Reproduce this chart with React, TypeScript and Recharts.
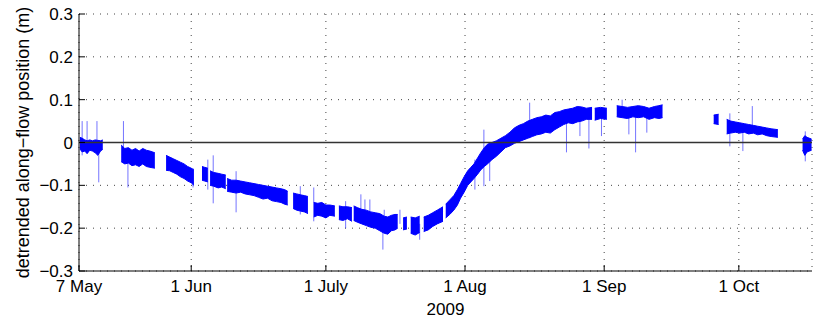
import React from 'react';
import { ComposedChart, Area, Scatter, ErrorBar, XAxis, YAxis, CartesianGrid, ReferenceLine } from 'recharts';

// days since 7 May 2009; null low/high marks a gap in the record
const DAYS = [
  0.2, 0.7, 1.3, 1.8, 2.4, 3.0, 3.6, 4.2, 4.8, 5.3, 5.5,
  9.4, 10.2, 11.0, 11.8, 12.6, 13.4, 14.2, 15.0, 15.8, 16.9, 17.2,
  19.4, 20.2, 21.0, 21.8, 22.6, 23.4, 24.2, 25.0, 25.6, 26,
  27.4, 28.0, 28.7, 28.95,
  29.2, 30.0, 31.0, 31.8, 32.7, 32.85,
  33.0, 34.0, 35.0, 36.0, 37.0, 38.0, 39.0, 40.0, 41.0, 42.0, 43.0, 44.0, 45.0, 45.8, 46.5, 47,
  47.7, 48.5, 49.3, 50.2, 51.0, 51.6,
  52.3, 53.2, 54.1, 55.0, 55.9, 57.0, 57.4,
  57.9, 58.8, 59.8, 60.8, 61.0,
  61.2, 62.0, 63.0, 64.0, 65.0, 66.0, 67.0, 68.0, 68.8, 69.6, 70.4, 71.0, 71.6,
  72.2, 73.05, 73.5,
  73.9, 74.9, 75.9, 76.3,
  76.8, 77.8, 78.8, 79.8, 81.1, 81.4,
  81.7, 82.6, 83.5, 84.3, 85.0, 85.8, 86.6, 87.3, 88.0, 88.8, 89.5, 90.3, 91.0, 92.0, 93.0, 94.0,
  95.0, 96.0, 97.0, 98.0, 99.0, 100.0, 101.0, 102.0, 103.0, 104.0, 105.0, 106.0, 107.0, 108.0,
  109.0, 110.0, 111.0, 112.0, 113.0, 114.3, 114.6,
  114.9, 116.2, 117.6, 118.5,
  119.8, 121.0, 122.2, 123.4, 124.6, 125.8, 127.0, 128.2, 129.2, 130.0, 131,
  141.4, 142.5, 143,
  144.3, 145.2, 146.2, 147.2, 148.2, 149.2, 150.2, 151.2, 152.2, 153.2, 154.2, 155.7, 156.5,
  161.2, 161.7, 162.2, 163.2,
];
const LOW = [
  -0.015, -0.022, -0.02, -0.026, -0.018, -0.02, -0.024, -0.03, -0.02, -0.016, null,
  -0.045, -0.05, -0.048, -0.054, -0.052, -0.056, -0.05, -0.056, -0.058, -0.06, null,
  -0.065, -0.066, -0.07, -0.074, -0.08, -0.084, -0.09, -0.094, -0.1, null,
  -0.088, -0.09, -0.092, null,
  -0.1, -0.102, -0.106, -0.104, -0.108, null,
  -0.114, -0.116, -0.118, -0.116, -0.12, -0.122, -0.124, -0.128, -0.132, -0.13, -0.136, -0.138, -0.14, -0.144, -0.146, null,
  -0.154, -0.158, -0.16, -0.162, -0.166, null,
  -0.174, -0.17, -0.172, -0.176, -0.17, -0.172, null,
  -0.18, -0.182, -0.178, -0.184, null,
  -0.182, -0.186, -0.19, -0.194, -0.198, -0.2, -0.206, -0.212, -0.214, -0.206, -0.204, -0.2, null,
  -0.204, -0.202, null,
  -0.212, -0.216, -0.21, null,
  -0.208, -0.204, -0.196, -0.19, -0.184, null,
  -0.176, -0.168, -0.158, -0.146, -0.13, -0.116, -0.1, -0.092, -0.084, -0.074, -0.064, -0.056, -0.05, -0.04, -0.032, -0.022,
  -0.012, -0.008, -0.002, 0.002, 0.006, 0.01, 0.014, 0.018, 0.02, 0.024, 0.022, 0.03, 0.036, 0.042,
  0.046, 0.044, 0.048, 0.05, 0.054, 0.054, null,
  0.052, 0.056, 0.054, null,
  0.06, 0.058, 0.056, 0.06, 0.058, 0.06, 0.054, 0.058, 0.056, 0.058, null,
  0.044, 0.042, null,
  0.02, 0.022, 0.024, 0.022, 0.024, 0.02, 0.022, 0.018, 0.02, 0.016, 0.014, 0.012, null,
  -0.018, -0.03, -0.022, -0.018,
];
const HIGH = [
  0.012, 0.01, 0.006, 0.004, 0.006, 0.004, 0.006, 0.005, 0.004, 0.006, null,
  -0.006, -0.014, -0.012, -0.018, -0.014, -0.02, -0.014, -0.018, -0.02, -0.024, null,
  -0.03, -0.034, -0.038, -0.042, -0.046, -0.05, -0.056, -0.06, -0.064, null,
  -0.056, -0.058, -0.06, null,
  -0.066, -0.07, -0.072, -0.074, -0.076, null,
  -0.084, -0.088, -0.088, -0.09, -0.092, -0.094, -0.096, -0.098, -0.1, -0.102, -0.104, -0.106, -0.108, -0.11, -0.114, null,
  -0.118, -0.12, -0.122, -0.124, -0.126, null,
  -0.14, -0.142, -0.14, -0.146, -0.146, -0.148, null,
  -0.148, -0.15, -0.15, -0.152, null,
  -0.148, -0.152, -0.156, -0.158, -0.162, -0.164, -0.166, -0.172, -0.174, -0.17, -0.168, -0.168, null,
  -0.176, -0.174, null,
  -0.174, -0.176, -0.172, null,
  -0.174, -0.17, -0.164, -0.158, -0.15, null,
  -0.144, -0.134, -0.124, -0.11, -0.096, -0.08, -0.066, -0.058, -0.05, -0.036, -0.024, -0.012, -0.004, 0.0, 0.004, 0.01,
  0.016, 0.024, 0.034, 0.04, 0.044, 0.05, 0.054, 0.058, 0.06, 0.064, 0.062, 0.07, 0.072, 0.076,
  0.078, 0.08, 0.084, 0.083, 0.08, 0.082, null,
  0.08, 0.082, 0.08, null,
  0.086, 0.084, 0.082, 0.084, 0.086, 0.084, 0.08, 0.084, 0.086, 0.088, null,
  0.064, 0.066, null,
  0.054, 0.05, 0.048, 0.046, 0.044, 0.042, 0.04, 0.038, 0.036, 0.034, 0.032, 0.03, null,
  0.008, 0.016, 0.012, 0.008,
];

// isolated outliers (thin vertical spikes)
const SPIKE_DAYS = [0.7, 1.8, 4.0, 4.4, 9.9, 10.9, 25.4, 28.7, 29.9, 35.0, 49.3, 52.3, 59.4, 62.8, 63.7, 64.8, 67.7, 68.0, 71.5, 75.9, 88.2, 90.2, 91.5, 100.4, 108.6, 111.6, 113.6, 116.4, 121.0, 122.5, 124.0, 126.5, 145.0, 147.9, 150.0, 161.8];
const SPIKE_LOW = [-0.03, -0.025, -0.02, -0.093, -0.02, -0.105, -0.105, -0.11, -0.142, -0.163, -0.168, -0.184, -0.2, -0.18, -0.19, -0.195, -0.25, -0.2, -0.19, -0.227, -0.11, -0.102, -0.09, 0.01, -0.023, 0.015, -0.014, 0.015, 0.06, 0.019, -0.023, 0.023, -0.009, -0.02, 0.02, -0.044];
const SPIKE_HIGH = [0.05, 0.05, 0.05, -0.01, 0.05, -0.03, -0.06, -0.04, -0.03, -0.067, -0.102, -0.105, -0.137, -0.121, -0.133, -0.133, -0.19, -0.157, -0.157, -0.19, -0.04, 0.03, -0.01, 0.093, 0.05, 0.06, 0.06, 0.06, 0.1, 0.06, 0.06, 0.06, 0.068, 0.03, 0.085, 0.026];

const X_TICKS = [0, 25, 55, 86, 117, 147];
const X_LABELS = ['7 May', '1 Jun', '1 July', '1 Aug', '1 Sep', '1 Oct'];
const Y_TICKS = [-0.3, -0.2, -0.1, 0, 0.1, 0.2, 0.3];

const X_END = 163.3;
const BLUE = '#0000ff';
const FONT = '"Liberation Sans", Arial, Helvetica, sans-serif';

const bandData = DAYS.map((t, i) => ({
  t,
  band: LOW[i] == null ? null : [LOW[i], HIGH[i]],
}));

const spikeData = SPIKE_DAYS.map((t, i) => {
  const mid = (SPIKE_LOW[i] + SPIKE_HIGH[i]) / 2;
  return { t, mid, err: [mid - SPIKE_LOW[i], SPIKE_HIGH[i] - mid] };
});

const fmtY = (v: number) => (v === 0 ? '0' : (v < 0 ? '\u2212' : '') + Math.abs(v).toFixed(1));
const fmtX = (v: number) => X_LABELS[X_TICKS.indexOf(v)] ?? '';

const tickStyle = { fill: '#000', fontSize: 17, fontFamily: FONT };

const css = `
body { margin: 0; overflow: hidden; background: #fff; }
.chart svg text { font-size: 17px; font-family: ${FONT}; fill: #000; }
`;

export default function App() {
  return (
    <div className="chart" style={{ padding: '8px 0 0 8px' }}>
      <style>{css}</style>
      <ComposedChart
        width={805}
        height={314}
        data={bandData}
        margin={{ top: 6, right: 1, left: 0, bottom: 0 }}
      >
        <CartesianGrid stroke="#444" strokeDasharray="1 6" />
        <XAxis
          dataKey="t"
          type="number"
          domain={[0, X_END]}
          ticks={X_TICKS}
          tickFormatter={fmtX}
          allowDataOverflow
          height={51}
          tickSize={-6}
          tickMargin={15}
          tick={tickStyle}
          stroke="#000"
          interval={0}
          label={{ value: '2009', position: 'insideBottom', offset: 7, fill: '#000', fontSize: 17, fontFamily: FONT }}
        />
        <XAxis
          xAxisId="top"
          orientation="top"
          dataKey="t"
          type="number"
          domain={[0, X_END]}
          ticks={X_TICKS}
          allowDataOverflow
          height={0}
          tickSize={-6}
          tick={false}
          stroke="#000"
        />
        <YAxis
          type="number"
          domain={[-0.3, 0.3]}
          ticks={Y_TICKS}
          tickFormatter={fmtY}
          allowDataOverflow
          width={71}
          tickSize={-6}
          tickMargin={12}
          tick={tickStyle}
          stroke="#000"
          interval={0}
          label={{
            value: 'detrended along\u2212flow position (m)',
            angle: -90,
            position: 'insideLeft',
            offset: 15,
            fill: '#000',
            fontSize: 18,
            fontFamily: FONT,
            style: { textAnchor: 'middle', fontSize: 18 },
          }}
        />
        <YAxis
          yAxisId="right"
          orientation="right"
          type="number"
          domain={[-0.3, 0.3]}
          ticks={Y_TICKS}
          allowDataOverflow
          width={0}
          tickSize={-6}
          tick={false}
          stroke="#000"
        />
        <Area
          dataKey="band"
          type="linear"
          stroke={BLUE}
          strokeWidth={1}
          fill={BLUE}
          fillOpacity={1}
          connectNulls={false}
          isAnimationActive={false}
          dot={false}
          activeDot={false}
        />
        <Scatter
          data={spikeData}
          dataKey="mid"
          shape={() => <g />}
          isAnimationActive={false}
        >
          <ErrorBar dataKey="err" direction="y" width={0} stroke={BLUE} strokeWidth={1} strokeOpacity={0.55} isAnimationActive={false} />
        </Scatter>
        <ReferenceLine y={0} stroke="#333" strokeWidth={1.4} />
      </ComposedChart>
    </div>
  );
}
